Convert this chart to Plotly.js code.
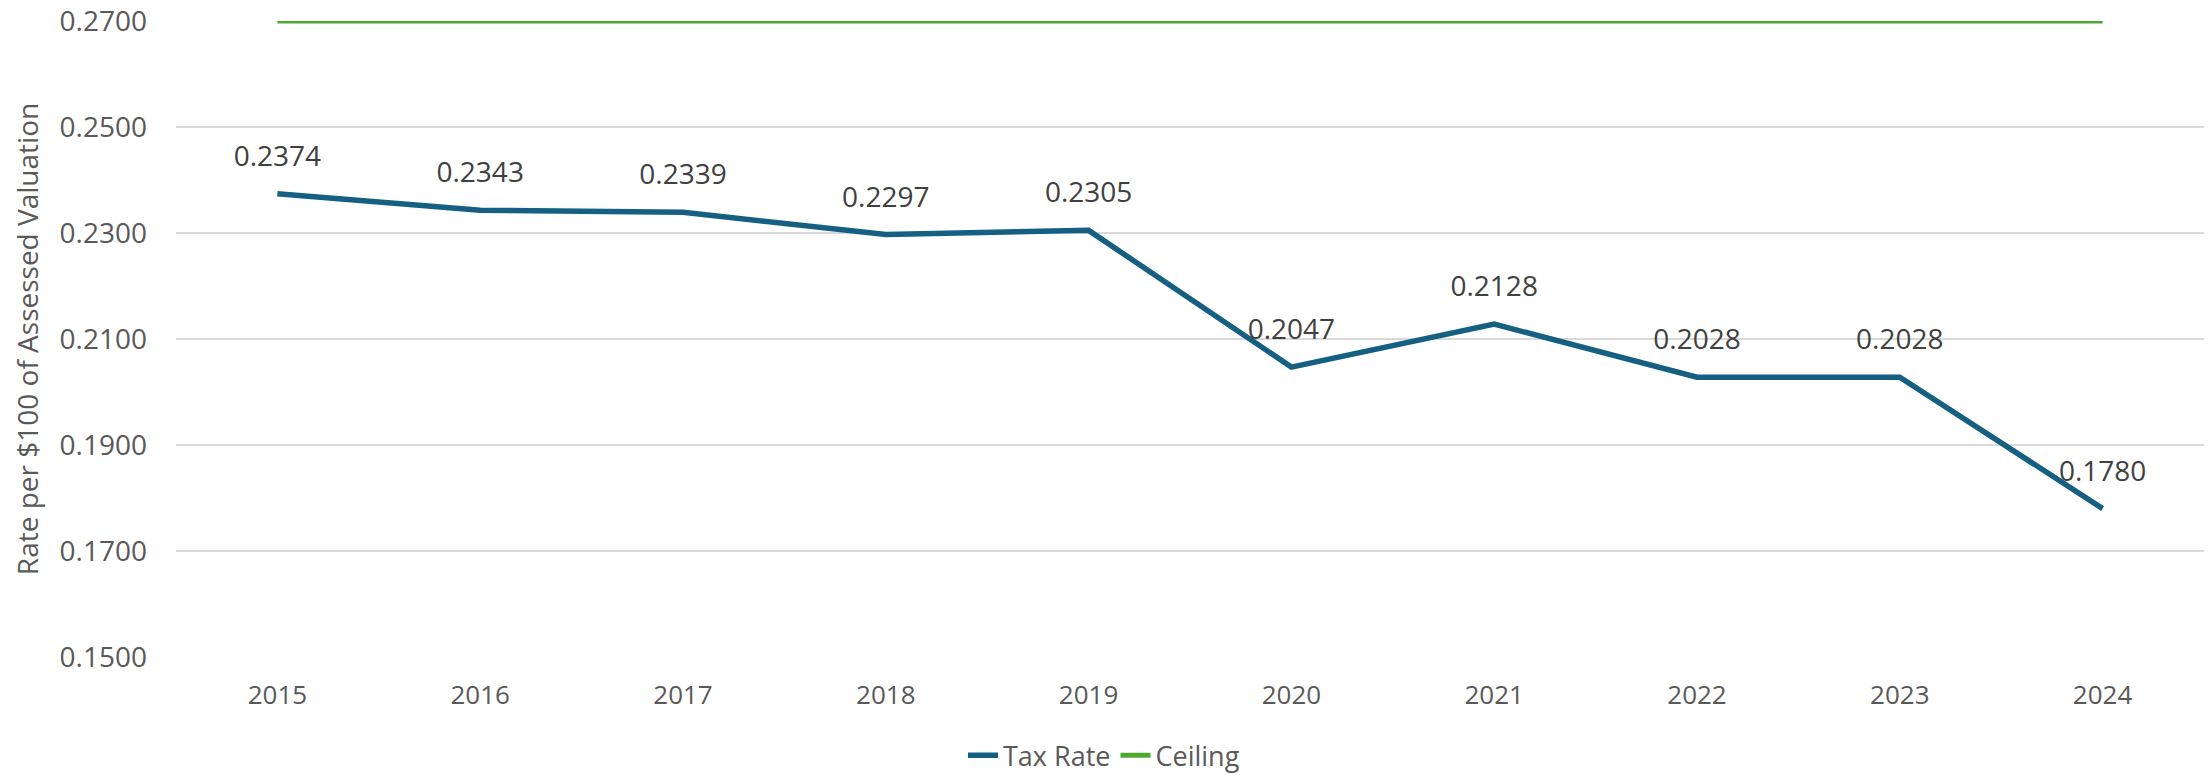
<!DOCTYPE html>
<html>
<head>
<meta charset="utf-8">
<script src="https://cdn.plot.ly/plotly-3.0.1.min.js"></script>
<style>html,body{margin:0;padding:0;background:#fff;}#chart{width:2208px;height:775px;}</style>
</head>
<body>
<div id="chart"></div>
<script>
const years = ["2015","2016","2017","2018","2019","2020","2021","2022","2023","2024"];
const taxRate = [0.2374, 0.2343, 0.2339, 0.2297, 0.2305, 0.2047, 0.2128, 0.2028, 0.2028, 0.1780];
const ceiling = [0.27, 0.27, 0.27, 0.27, 0.27, 0.27, 0.27, 0.27, 0.27, 0.27];
const yTicks = [0.15, 0.17, 0.19, 0.21, 0.23, 0.25, 0.27];

const FONT = "Open Sans, Noto Sans, sans-serif";

const traces = [
  {x: years, y: taxRate, name: "Tax Rate", type: "scatter", mode: "lines",
   line: {color: "#156082", width: 5.5}, cliponaxis: false},
  {x: years, y: ceiling, name: "Ceiling", type: "scatter", mode: "lines",
   line: {color: "#4EA72E", width: 5}, cliponaxis: false},
  {x: years, y: taxRate, name: "labels", type: "scatter", mode: "markers+text",
   showlegend: false, hoverinfo: "skip", cliponaxis: false,
   marker: {size: 32, opacity: 0, color: "rgba(0,0,0,0)"},
   text: taxRate.map(v => v.toFixed(4)), textposition: "top center",
   textfont: {family: FONT, size: 28, color: "#404040"}}
];

const layout = {
  width: 2208, height: 775,
  margin: {l: 176, r: 4, t: 21, b: 118},
  paper_bgcolor: "#fff", plot_bgcolor: "#fff",
  font: {family: FONT, color: "#595959"},
  showlegend: true,
  legend: {orientation: "h", xref: "container", yref: "container",
           x: 0.5, xanchor: "center", y: 0.025, yanchor: "middle",
           font: {family: FONT, size: 27, color: "#595959"}, itemwidth: 30,
           traceorder: "normal"},
  xaxis: {type: "category", range: [-0.5, 9.5], showgrid: false, zeroline: false,
          showline: false, ticks: "", ticklabelstandoff: 20,
          tickfont: {family: FONT, size: 26, color: "#595959"}},
  yaxis: {range: [0.15, 0.27], tickvals: yTicks, tickformat: ".4f",
          showgrid: true, gridcolor: "#d9d9d9", gridwidth: 2, zeroline: false,
          showline: false, ticks: "", ticklabelstandoff: 28,
          tickfont: {family: FONT, size: 28, color: "#595959"},
          title: {text: "Rate per $100 of Assessed Valuation", standoff: 12,
                  font: {family: FONT, size: 28, color: "#595959"}}}
};

Plotly.newPlot("chart", traces, layout, {displayModeBar: false, staticPlot: true});
</script>
</body>
</html>
